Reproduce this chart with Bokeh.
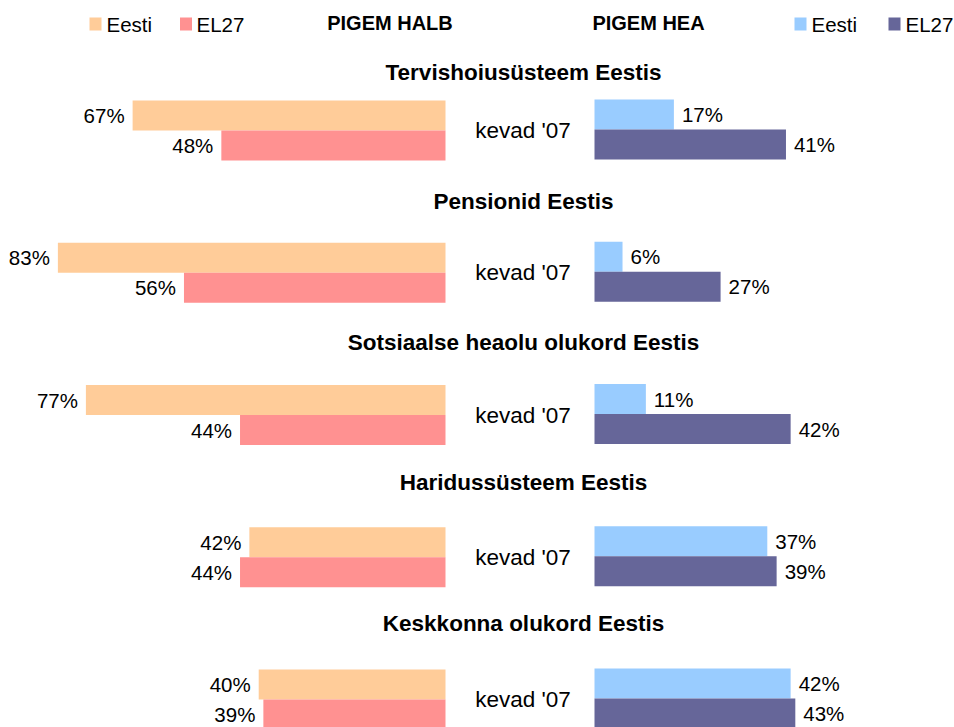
from bokeh.plotting import figure
from bokeh.models import Range1d
from bokeh.embed import file_html
from bokeh.resources import INLINE
from bokeh.core.properties import value

# ---- data ----
topics = ["Tervishoiusüsteem Eestis", "Pensionid Eestis",
          "Sotsiaalse heaolu olukord Eestis", "Haridussüsteem Eestis",
          "Keskkonna olukord Eestis"]
period = "kevad '07"
halb_eesti = [67, 83, 77, 42, 40]
halb_el27 = [48, 56, 44, 44, 39]
hea_eesti = [17, 6, 11, 37, 42]
hea_el27 = [41, 27, 42, 39, 43]
series_names = ["Eesti", "EL27"]
side_titles = ["PIGEM HALB", "PIGEM HEA"]

# ---- styles / layout ----
C_HALB_EE = "#FFCC99"
C_HALB_EU = "#FF9191"
C_HEA_EE = "#99CCFF"
C_HEA_EU = "#666699"
FONT = "Liberation Sans"

W, H = 954, 727
PX = 4.67          # pixels per percentage point
MID = 519.5        # x of the centre line (pixels)
G = 74.5 / PX      # half gap between the two sides (data units)


def dx(sx):
    return (sx - MID) / PX


def dy(sy):
    return sy


p = figure(width=W, height=H, output_backend="svg", toolbar_location=None,
           x_range=Range1d(dx(0), dx(W)), y_range=Range1d(H, 0),
           min_border=0)
p.axis.visible = False
p.grid.visible = False
p.outline_line_color = None
p.background_fill_color = "white"
p.border_fill_color = "white"

n = len(topics)
BAR_H = 30
STEP = 142.25
tops = [dy(100) + STEP * i for i in range(n)]
title_y = [dy(72), dy(201), dy(342), dy(482), dy(623)]
y1 = [t + BAR_H / 2 for t in tops]
y2 = [t + BAR_H * 1.5 for t in tops]
ymid = [t + BAR_H for t in tops]

LAB = 8 / PX

# left (halb)
p.hbar(y=y1, left=[-G - v for v in halb_eesti], right=-G, height=BAR_H,
       fill_color=C_HALB_EE, line_color=None)
p.hbar(y=y2, left=[-G - v for v in halb_el27], right=-G, height=BAR_H,
       fill_color=C_HALB_EU, line_color=None)
# right (hea)
p.hbar(y=[y - 1 for y in y1], left=G, right=[G + v for v in hea_eesti], height=BAR_H,
       fill_color=C_HEA_EE, line_color=None)
p.hbar(y=[y - 1 for y in y2], left=G, right=[G + v for v in hea_el27], height=BAR_H,
       fill_color=C_HEA_EU, line_color=None)

FS = "20.5px"
common = dict(text_baseline="middle", text_font=value(FONT), text_color="black")
p.text(x=[-G - v - LAB for v in halb_eesti], y=y1, text=[f"{v}%" for v in halb_eesti],
       text_align="right", text_font_size=FS, **common)
p.text(x=[-G - v - LAB for v in halb_el27], y=y2, text=[f"{v}%" for v in halb_el27],
       text_align="right", text_font_size=FS, **common)
p.text(x=[G + v + LAB for v in hea_eesti], y=[y - 1 for y in y1], text=[f"{v}%" for v in hea_eesti],
       text_align="left", text_font_size=FS, **common)
p.text(x=[G + v + LAB for v in hea_el27], y=[y - 1 for y in y2], text=[f"{v}%" for v in hea_el27],
       text_align="left", text_font_size=FS, **common)

# period labels
p.text(x=[dx(522.5)] * n, y=ymid, text=[period] * n, text_align="center",
       text_font_size="22.5px", **common)

# topic titles
p.text(x=[dx(523)] * n, y=title_y, text=topics, text_align="center",
       text_font_size="22.5px", text_font_style="bold", **common)

# side titles
p.text(x=[dx(389.5), dx(648)], y=[dy(22)] * 2, text=side_titles,
       text_align="center", text_font_size="20px", text_font_style="bold", **common)

# legends
leg_sq_x = [dx(95), dx(185.5), dx(800), dx(894)]
leg_colors = [C_HALB_EE, C_HALB_EU, C_HEA_EE, C_HEA_EU]
p.rect(x=leg_sq_x, y=[dy(23.5)] * 4, width=12 / PX, height=13,
       fill_color=leg_colors, line_color=None)
p.text(x=[dx(106), dx(196), dx(811), dx(905)], y=[dy(24)] * 4,
       text=series_names * 2, text_align="left", text_font_size="20.5px", **common)

open("out.html", "w").write(file_html(p, INLINE))
